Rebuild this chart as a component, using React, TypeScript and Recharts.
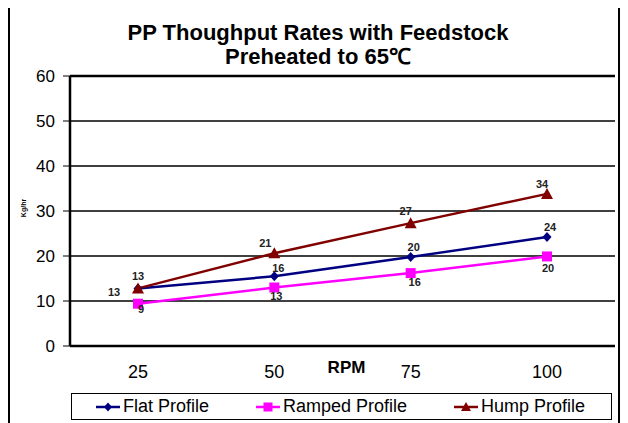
import { LineChart, Line, XAxis, YAxis, CartesianGrid, ReferenceLine, Legend } from 'recharts';

const rpm = ['25', '50', '75', '100'];
const flatProfile = [12.8, 15.5, 19.8, 24.2];
const rampedProfile = [9.4, 13.0, 16.2, 19.9];
const humpProfile = [12.8, 20.6, 27.3, 33.8];
const yTicks = [0, 10, 20, 30, 40, 50, 60];
const frameTicks = [0, 1, 2, 3, 4];

const data = rpm.map((r, i) => ({ rpm: r, flat: flatProfile[i], ramped: rampedProfile[i], hump: humpProfile[i] }));

const NAVY = '#000080';
const MAGENTA = '#FF00FF';
const MAROON = '#800000';
const FONT = '"Liberation Sans", Arial, sans-serif';

// per-point label offsets, like Excel placed them
const flatOffsets = [[-24, 4], [4, -8], [3, -10], [3, -10]];
const rampedOffsets = [[3, 5], [2, 8], [4, 9], [1, 12]];
const humpOffsets = [[0, -12], [-9, -10], [-5, -12], [-5, -10]];

const Diamond = (p: any) => p.cx == null ? null : (
  <polygon key={p.key} points={`${p.cx},${p.cy - 5} ${p.cx + 4.5},${p.cy} ${p.cx},${p.cy + 5} ${p.cx - 4.5},${p.cy}`} fill={NAVY} />
);
const Square = (p: any) => p.cx == null ? null : (
  <rect key={p.key} x={p.cx - 5} y={p.cy - 5} width={10} height={10} fill={MAGENTA} />
);
const Triangle = (p: any) => p.cx == null ? null : (
  <polygon key={p.key} points={`${p.cx},${p.cy - 6} ${p.cx + 6},${p.cy + 5} ${p.cx - 6},${p.cy + 5}`} fill={MAROON} />
);

const makeLabel = (offsets: number[][]) => (p: any) => {
  const [dx, dy] = offsets[p.index] ?? [0, -10];
  return (
    <text key={p.index} x={p.x + dx} y={p.y + dy} textAnchor="middle" dominantBaseline="central"
      fontSize={11} fontWeight="bold" fontFamily={FONT} fill="#222">{Math.round(p.value)}</text>
  );
};

function LegendBox() {
  const items = [
    { name: 'Flat Profile', color: NAVY, icon: 24, text: 51, mark: 'diamond' },
    { name: 'Ramped Profile', color: MAGENTA, icon: 184, text: 211, mark: 'square' },
    { name: 'Hump Profile', color: MAROON, icon: 382, text: 409, mark: 'triangle' },
  ];
  return (
    <div style={{ position: 'relative', width: 539, height: 25, border: '1px solid #000', fontFamily: FONT, fontSize: 18 }}>
      {items.map(it => (
        <div key={it.name}>
          <svg style={{ position: 'absolute', left: it.icon, top: 6 }} width={24} height={14}>
            <line x1={0} y1={7} x2={24} y2={7} stroke={it.color} strokeWidth={2.5} />
            {it.mark === 'diamond' && <polygon points="12,2.5 16,7 12,11.5 8,7" fill={it.color} />}
            {it.mark === 'square' && <rect x={7.5} y={2.5} width={9} height={9} fill={it.color} />}
            {it.mark === 'triangle' && <polygon points="12,2 17,11 7,11" fill={it.color} />}
          </svg>
          <span style={{ position: 'absolute', left: it.text, top: 2, lineHeight: '21px', whiteSpace: 'nowrap' }}>{it.name}</span>
        </div>
      ))}
    </div>
  );
}

export default function App() {
  return (
    <div style={{ position: 'relative', marginTop: -2, width: 612, height: 430, border: '2px solid #000', boxSizing: 'border-box', overflow: 'hidden', fontFamily: FONT, background: '#fff' }}>
      <div style={{ position: 'absolute', top: 13, left: 0, width: 616, textAlign: 'center', fontWeight: 'bold', fontSize: 22, lineHeight: '24px' }}>
        PP Thoughput Rates with Feedstock<br />Preheated to 65℃
      </div>
      <LineChart width={608} height={420} data={data} margin={{ top: 68, right: 3, left: 10, bottom: 51 }}>
        <CartesianGrid horizontal vertical={false} stroke="#000" strokeWidth={1.5} />
        {/* frame axis (id 0): bottom border and ticks at category boundaries */}
        <XAxis type="number" domain={[0, 4]} ticks={frameTicks} allowDataOverflow
          tick={false} tickSize={7} height={1} axisLine={{ stroke: '#000', strokeWidth: 2.5 }} tickLine={{ stroke: '#000' }} />
        <XAxis xAxisId={1} dataKey="rpm" type="category" padding={{ left: 68, right: 68 }} height={30}
          tickLine={false} axisLine={false} tickSize={0} tickMargin={18}
          tick={{ fontSize: 18, fill: '#000', fontFamily: FONT }}
          label={{
            content: (lp: any) => (
              <text x={lp.viewBox.x + lp.viewBox.width / 2 + 4} y={lp.viewBox.y + 20} textAnchor="middle" dominantBaseline="central"
                fontSize={17} fontWeight="bold" fontFamily={FONT} fill="#000">RPM</text>
            ),
          }} />
        <YAxis domain={[0, 60]} ticks={yTicks} width={50} tickSize={7} tickMargin={8}
          axisLine={{ stroke: '#000', strokeWidth: 2.5 }} tickLine={{ stroke: '#000' }}
          tick={{ fontSize: 17, fill: '#000', fontFamily: FONT }}
          label={{
            content: (lp: any) => {
              const x = lp.viewBox.x + 3;
              const y = lp.viewBox.y + lp.viewBox.height / 2 - 3;
              return (
                <text x={x} y={y} transform={`rotate(-90 ${x} ${y})`} textAnchor="middle" dominantBaseline="central"
                  fontSize={7} fontWeight="bold" fontFamily={FONT} fill="#000">Kg/hr</text>
              );
            },
          }} />
        <ReferenceLine y={60} stroke="#000" strokeWidth={2.5} />
        <ReferenceLine x={4} stroke="#000" strokeWidth={2.5} />
        <Line xAxisId={1} dataKey="flat" name="Flat Profile" stroke={NAVY} strokeWidth={2.5} dot={Diamond} label={makeLabel(flatOffsets)} isAnimationActive={false} />
        <Line xAxisId={1} dataKey="ramped" name="Ramped Profile" stroke={MAGENTA} strokeWidth={2.5} dot={Square} label={makeLabel(rampedOffsets)} isAnimationActive={false} />
        <Line xAxisId={1} dataKey="hump" name="Hump Profile" stroke={MAROON} strokeWidth={2.5} dot={Triangle} label={makeLabel(humpOffsets)} isAnimationActive={false} />
        <Legend verticalAlign="middle" align="center" layout="horizontal"
          wrapperStyle={{ top: 385, left: 61, width: 541, height: 27 }} content={() => <LegendBox />} />
      </LineChart>
    </div>
  );
}
